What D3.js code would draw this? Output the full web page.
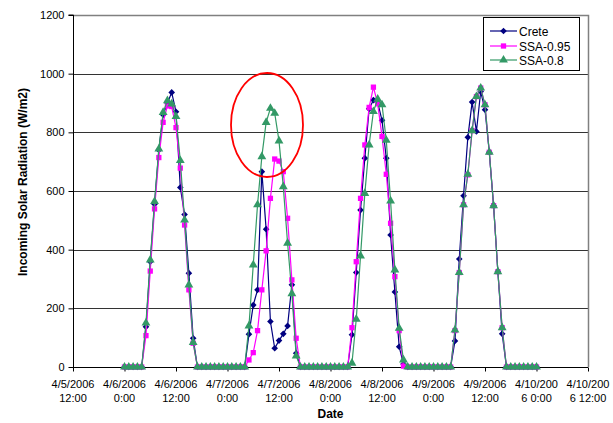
<!DOCTYPE html>
<html>
<head>
<meta charset="utf-8">
<script src="https://cdn.jsdelivr.net/npm/d3@7"></script>
<style>
  body { margin: 0; background: #fff; }
  text { font-family: Arial, "Liberation Sans", sans-serif; }
</style>
</head>
<body>
<div id="GraphDiv"></div>
<script>
// Global variables.
let width = 613
let height = 423
let margins = {"left": 73, "right": 25, "top": 15, "bottom": 56};

// Hourly readings, starting 4/6/2006 0:00, one day per row.
const firstHour = new Date(2006, 3, 6, 0)
const crete = [
  0, 0, 0, 0, 0, 137, 359, 555, 740, 860, 900, 936, 870, 612, 520, 320, 98, 0, 0, 0, 0, 0, 0, 0,
  0, 0, 0, 0, 0, 112, 211, 263, 666, 470, 155, 64, 90, 113, 140, 280, 47, 0, 0, 0, 0, 0, 0, 0,
  0, 0, 0, 0, 0, 110, 322, 535, 712, 880, 910, 902, 841, 712, 450, 256, 69, 10, 0, 0, 0, 0, 0, 0,
  0, 0, 0, 0, 0, 89, 368, 584, 783, 903, 803, 939, 877, 732, 550, 325, 113, 0, 0, 0, 0, 0, 0, 0,
  0
]
const ssa095 = [
  0, 0, 0, 0, 0, 107, 327, 539, 714, 834, 890, 888, 816, 678, 484, 263, 81, 0, 0, 0, 0, 0, 0, 0,
  0, 0, 0, 0, 0, 24, 49, 124, 263, 396, 575, 709, 702, 666, 507, 297, 98, 0, 0, 0, 0, 0, 0, 0,
  0, 0, 0, 0, 0, 134, 359, 575, 757, 885, 954, 897, 786, 657, 490, 308, 124, 3, 0, 0, 0, 0, 0, 0,
  0, 0, 0, 0, 0, 124, 322, 553, 655, 806, 922, 951, 894, 732, 550, 325, 134, 0, 0, 0, 0, 0, 0, 0,
  0
]
const ssa08 = [
  0, 0, 0, 0, 0, 150, 365, 564, 743, 868, 908, 897, 854, 704, 501, 280, 84, 0, 0, 0, 0, 0, 0, 0,
  0, 0, 0, 0, 0, 140, 348, 553, 717, 834, 882, 865, 771, 615, 422, 250, 38, 0, 0, 0, 0, 0, 0, 0,
  0, 0, 0, 0, 0, 13, 163, 379, 592, 757, 871, 913, 894, 773, 566, 331, 132, 24, 0, 0, 0, 0, 0, 0,
  0, 0, 0, 0, 0, 126, 322, 553, 657, 806, 922, 951, 894, 732, 550, 325, 134, 0, 0, 0, 0, 0, 0, 0,
  0
]
const seriesNames = ["Crete", "SSA-0.95", "SSA-0.8"]
const seriesColours = ["#000080", "#FF00FF", "#339966"]

// Axis ticks and labels.
const yTicks = [0, 200, 400, 600, 800, 1000, 1200]
const xLabelTop = ["4/5/2006", "4/6/2006", "4/6/2006", "4/7/2006", "4/7/2006", "4/8/2006",
  "4/8/2006", "4/9/2006", "4/9/2006", "4/10/200", "4/10/200"]
const xLabelBottom = ["12:00", "0:00", "12:00", "0:00", "12:00", "0:00",
  "12:00", "0:00", "12:00", "6 0:00", "6 12:00"]

// Main svg element.
let svg = d3.select("#GraphDiv")
    .append("svg")
    .attr("width", width)
    .attr("height", height)

// Define axes ranges.
let startDate = new Date(2006, 3, 5, 12)
let endDate = new Date(2006, 3, 10, 12)
let xRange = d3.scaleTime().domain([startDate, endDate]).range([margins.left, width - margins.right]);
let yRange = d3.scaleLinear().domain([0, 1200]).range([height - margins.bottom, margins.top]);
let xTicks = d3.range(xLabelTop.length).map(i => d3.timeHour.offset(startDate, i * 12))

// Gridlines.
svg.append("g")
    .selectAll("line")
    .data(yTicks.slice(1, -1))
    .enter()
    .append("line")
    .attr("x1", margins.left)
    .attr("x2", width - margins.right)
    .attr("y1", d => Math.round(yRange(d)) + 0.5)
    .attr("y2", d => Math.round(yRange(d)) + 0.5)
    .style("stroke", "#333")
    .style("stroke-width", 1);

// Plot area border on top and right.
svg.append("path")
    .attr("d", "M" + margins.left + "," + (Math.round(yRange(1200)) + 0.5) +
        "H" + (Math.round(xRange(endDate)) + 0.5) + "V" + yRange(0))
    .style("fill", "none")
    .style("stroke", "#808080")
    .style("stroke-width", 1.5);

// Create axes.
let yAxis = d3.axisLeft(yRange).tickValues(yTicks).tickSize(5).tickPadding(4).tickFormat(d3.format("d"));
let xAxis = d3.axisBottom(xRange).tickValues(xTicks).tickSize(4).tickFormat("");

let gy = svg.append("g").attr("transform", "translate(" + (margins.left + 0.5) + ",0)").call(yAxis);
let gx = svg.append("g").attr("transform", "translate(0," + (Math.round(yRange(0)) + 0.5) + ")").call(xAxis);
gy.select(".domain").attr("d", "M-5," + yRange(1200) + "H0V" + yRange(0)).style("stroke", "#000");
gx.select(".domain").attr("d", "M" + margins.left + ",0H" + xRange(endDate)).style("stroke", "#000");
svg.selectAll(".tick line").style("stroke", "#000");
gy.selectAll("text").style("font-size", "11px").style("fill", "#000")
    .style("font-family", "Arial, 'Liberation Sans', sans-serif");

// Two-line date labels.
let xLabels = svg.append("g").selectAll("text")
    .data(xTicks)
    .enter()
    .append("text")
    .attr("x", d => xRange(d))
    .attr("y", 388)
    .style("text-anchor", "middle")
    .style("font-size", "11px");
xLabels.append("tspan").attr("x", d => xRange(d)).text((d, i) => xLabelTop[i]);
xLabels.append("tspan").attr("x", d => xRange(d)).attr("dy", 14).text((d, i) => xLabelBottom[i]);

// Add axes labels.
svg.append("text")
    .attr("x", (margins.left + width - margins.right) / 2)
    .attr("y", 418)
    .style("text-anchor", "middle")
    .style("font-size", "12px")
    .style("font-weight", "bold")
    .text("Date");

svg.append("text")
    .attr("transform", "translate(27," + 182 + ") rotate(-90)")
    .style("text-anchor", "middle")
    .style("font-size", "12px")
    .style("font-weight", "bold")
    .text("Incoming Solar Radiation (W/m2)");

// Build series.
let allSeries = [crete, ssa095, ssa08].map(function (values, s) {
    return values.map(function (v, i) {
        return {date: d3.timeHour.offset(firstHour, i), value: v, s: s}
    })
})
let markerShapes = [
    d3.symbol().type(d3.symbolSquare).size(22),
    d3.symbol().type(d3.symbolSquare).size(28),
    d3.symbol().type(d3.symbolTriangle).size(34)
]
let markerRotation = [45, 0, 0]

let line = d3.line().x(d => xRange(d.date)).y(d => yRange(d.value));

allSeries.forEach(function (series, s) {
    svg.append("path")
        .datum(series)
        .attr("d", line)
        .style("fill", "none")
        .style("stroke", seriesColours[s])
        .style("stroke-width", 1.2);

    svg.append("g")
        .selectAll("path")
        .data(series)
        .enter()
        .append("path")
        .attr("d", markerShapes[s])
        .attr("transform", d => "translate(" + xRange(d.date) + "," + yRange(d.value) + ") rotate(" + markerRotation[s] + ")")
        .style("fill", seriesColours[s]);
});

// Highlight ellipse.
svg.append("ellipse")
    .attr("cx", 267)
    .attr("cy", 125)
    .attr("rx", 36)
    .attr("ry", 52)
    .style("fill", "none")
    .style("stroke", "#FF0000")
    .style("stroke-width", 1.8);

// Legend.
let legend = svg.append("g");
legend.append("rect")
    .attr("x", 483.5).attr("y", 17.5)
    .attr("width", 96).attr("height", 53)
    .style("fill", "#fff")
    .style("stroke", "#000");
let legendY = [31, 46, 60];
seriesNames.forEach(function (name, s) {
    legend.append("line")
        .attr("x1", 490).attr("x2", 517)
        .attr("y1", legendY[s]).attr("y2", legendY[s])
        .style("stroke", seriesColours[s])
        .style("stroke-width", 1.2);
    legend.append("path")
        .attr("d", markerShapes[s])
        .attr("transform", "translate(503.5," + legendY[s] + ") rotate(" + markerRotation[s] + ")")
        .style("fill", seriesColours[s]);
    legend.append("text")
        .attr("x", 519)
        .attr("y", legendY[s] + 4.5)
        .style("font-size", "12px")
        .text(name);
});
</script>
</body>
</html>
